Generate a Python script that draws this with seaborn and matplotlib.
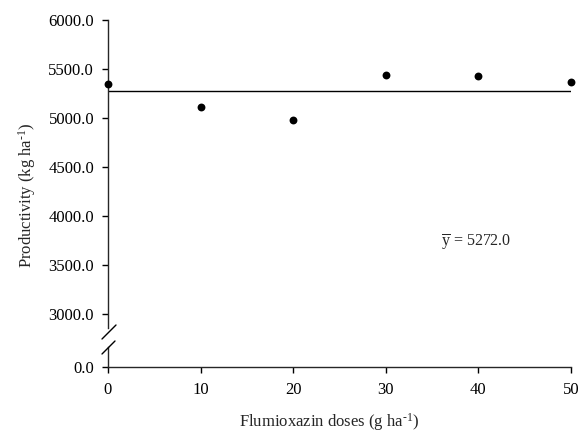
import numpy as np
import pandas as pd
import seaborn as sns
import matplotlib.pyplot as plt

doses = [0, 10, 20, 30, 40, 50]
productivity = [5345, 5110, 4978, 5438, 5428, 5372]
mean_value = 5272.0
upper_ticks = [3000, 3500, 4000, 4500, 5000, 5500, 6000]

sns.set_style("ticks")
plt.rcParams['font.family'] = ['Liberation Serif', 'DejaVu Serif']
plt.rcParams['mathtext.fontset'] = 'custom'
plt.rcParams['mathtext.rm'] = 'Liberation Serif'
plt.rcParams['mathtext.it'] = 'Liberation Serif:italic'

df = pd.DataFrame({"dose": doses, "prod": productivity})

W, H = 581, 440
fig = plt.figure(figsize=(W / 100, H / 100), dpi=100)

# pixel layout
x0, x1 = 108, 571
top_px, brk_hi, brk_lo, zero_px = 20, 328, 347, 367
px_per_unit = (118 - 20) / 1000.0

ax_top = fig.add_axes([x0 / W, 1 - brk_hi / H, (x1 - x0) / W, (brk_hi - top_px) / H])
ax_bot = fig.add_axes([x0 / W, 1 - zero_px / H, (x1 - x0) / W, (zero_px - brk_lo) / H])

ax_top.set_ylim(6000 - (brk_hi - top_px) / px_per_unit, 6000)
ax_bot.set_ylim(0, (zero_px - brk_lo) / px_per_unit)
for a in (ax_top, ax_bot):
    a.set_xlim(0, 50)
    a.set_facecolor('none')
    a.spines['top'].set_visible(False)
    a.spines['right'].set_visible(False)
    a.spines['left'].set_linewidth(1.0)
    a.spines['bottom'].set_linewidth(1.0)
    a.tick_params(direction='out', length=4, width=1, labelsize=12, pad=6, colors='black')

ax_top.spines['bottom'].set_visible(False)
ax_top.tick_params(axis='x', bottom=False, labelbottom=False)

sns.scatterplot(data=df, x="dose", y="prod", ax=ax_top, color='black', s=32,
                edgecolor='black', linewidth=0, clip_on=False, zorder=3)
sns.lineplot(x=[min(doses), max(doses)], y=[mean_value, mean_value], ax=ax_top,
             color='black', linewidth=1.0)

ax_top.set_yticks(upper_ticks)
ax_top.set_yticklabels([f"{t:.1f}" for t in upper_ticks])
ax_top.set_xlabel("")
ax_top.set_ylabel("")

ax_bot.set_yticks([0])
ax_bot.set_yticklabels(["0.0"])
ax_bot.set_xticks(doses)
ax_bot.set_xticklabels([str(d) for d in doses])
ax_bot.tick_params(axis='x', pad=7)

ax_top.text(36.0, 3720, r"$\overline{\mathrm{y}}$ = " + f"{mean_value:.1f}", fontsize=11.5,
            ha='left', va='center')

# break marks
def px(x, y):
    return (x / W, 1 - y / H)

for (xa, ya), (xb, yb) in [((102, 339), (116, 325)), ((102, 354), (115, 341))]:
    fig.add_artist(plt.Line2D([px(xa, ya)[0], px(xb, yb)[0]], [px(xa, ya)[1], px(xb, yb)[1]],
                              color='black', linewidth=1.0))

fig.text(27 / W, 1 - 195 / H, r"Productivity (kg ha$^{\text{-1}}$)", rotation=90,
         ha='center', va='center', fontsize=12)
fig.text(329 / W, 1 - 422 / H, r"Flumioxazin doses (g ha$^{\text{-1}}$)",
         ha='center', va='center', fontsize=12)

fig.savefig("out.png", dpi=100)
